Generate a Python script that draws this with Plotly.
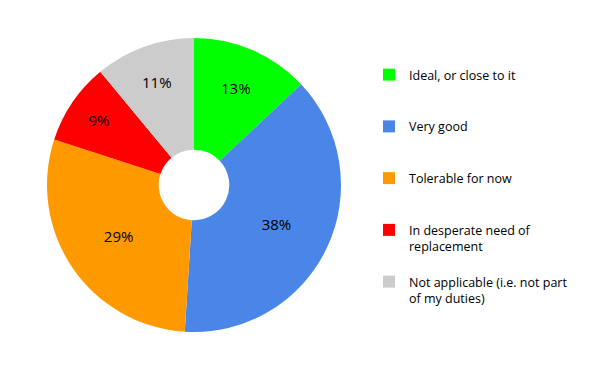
import plotly.graph_objects as go

labels = ["Ideal, or close to it", "Very good", "Tolerable for now",
          "In desperate need of<br>replacement", "Not applicable (i.e. not part<br>of my duties)"]
values = [13, 38, 29, 9, 11]
colors = ["#00ff00", "#4a86e8", "#ff9900", "#ff0000", "#cccccc"]

# pad legend entries with blank lines to reproduce the reference spacing
legend_labels = [labels[0] + "<br> <br> ", labels[1] + "<br> <br> ", labels[2] + "<br> <br> ",
                 labels[3] + "<br> ", labels[4]]

fig = go.Figure(go.Pie(
    labels=legend_labels,
    values=values,
    marker=dict(colors=colors, line=dict(width=0)),
    hole=0.24,
    sort=False,
    direction="clockwise",
    rotation=0,
    textinfo="percent",
    texttemplate="%{percent:.0%}",
    textposition="inside",
    insidetextorientation="horizontal",
    textfont=dict(family="Open Sans", size=15, color="#000000"),
    domain=dict(x=[47/600, 341/600], y=[39/371, 333/371]),
))

fig.update_layout(
    width=600, height=371,
    margin=dict(l=0, r=0, t=0, b=0),
    paper_bgcolor="white",
    showlegend=True,
    legend=dict(
        x=0.615, y=1 - 60/371, xanchor="left", yanchor="top",
        font=dict(family="Open Sans", size=12.5, color="#000000"),
        valign="top",
        itemclick=False,
    ),
)

fig.write_html("out.html")
